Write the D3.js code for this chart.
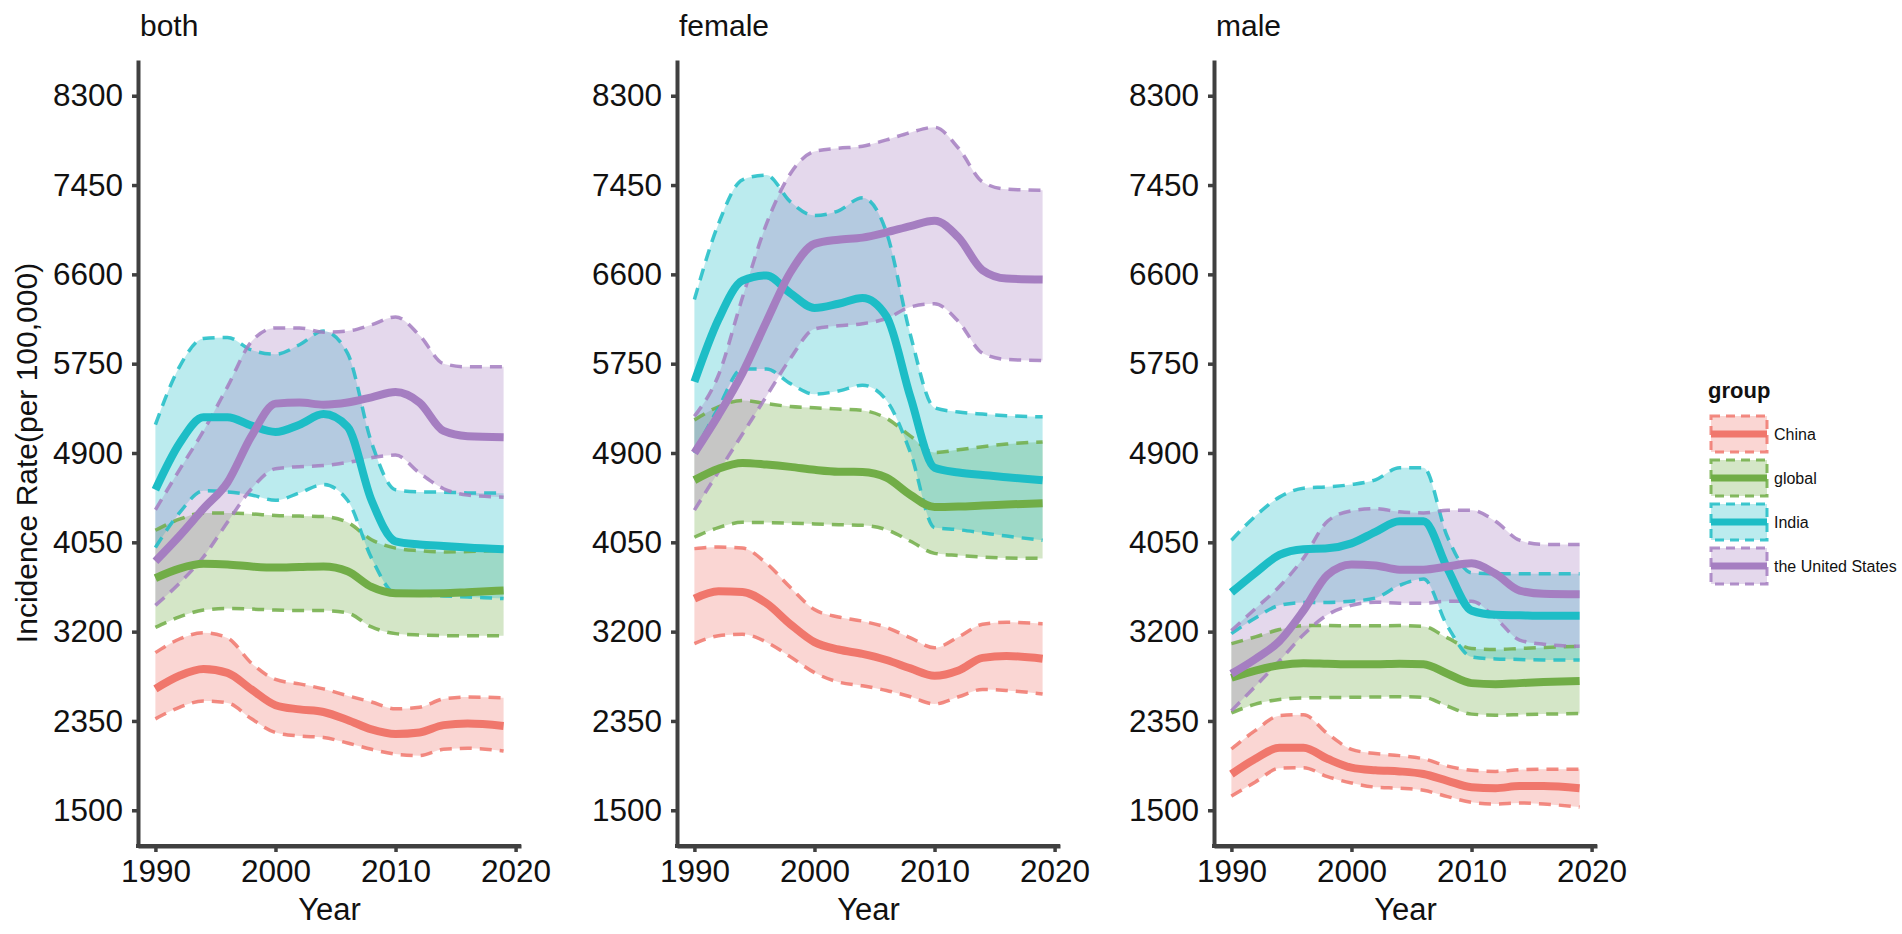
<!DOCTYPE html>
<html>
<head>
<meta charset="utf-8">
<script src="https://cdn.jsdelivr.net/npm/d3@7"></script>
<style>
  body { margin: 0; background: #fff; }
  text { font-family: "Liberation Sans", Arial, sans-serif; }
</style>
</head>
<body>
<div id="chart"></div>
<script>
const years = [1990, 1992, 1994, 1996, 1998, 2000, 2002, 2004, 2006, 2008, 2010, 2012, 2014, 2016, 2019];
const groups = ["China", "global", "India", "the United States"];
const panels = ["both", "female", "male"];
const yTicks = [1500, 2350, 3200, 4050, 4900, 5750, 6600, 7450, 8300];
const xTicks = [1990, 2000, 2010, 2020];

// both
const bothChinaFit  = [2656, 2780, 2845, 2808, 2650, 2500, 2460, 2435, 2360, 2270, 2226, 2240, 2310, 2325, 2302];
const bothChinaLow  = [2370, 2480, 2540, 2522, 2370, 2240, 2207, 2193, 2140, 2080, 2035, 2020, 2080, 2090, 2064];
const bothChinaHigh = [3000, 3130, 3190, 3140, 2900, 2745, 2703, 2655, 2590, 2530, 2465, 2480, 2560, 2578, 2570];
const bothGlobalFit  = [3710, 3800, 3845, 3840, 3820, 3810, 3815, 3820, 3775, 3625, 3565, 3563, 3565, 3575, 3592];
const bothGlobalLow  = [3240, 3340, 3405, 3420, 3415, 3405, 3400, 3400, 3378, 3245, 3181, 3168, 3162, 3160, 3162];
const bothGlobalHigh = [4165, 4270, 4330, 4330, 4320, 4305, 4300, 4295, 4240, 4075, 3995, 3970, 3958, 3962, 3975];
const bothIndiaFit  = [4550, 4990, 5240, 5240, 5160, 5100, 5170, 5270, 5150, 4450, 4060, 4030, 4015, 4000, 3983];
const bothIndiaLow  = [4000, 4330, 4540, 4530, 4500, 4450, 4520, 4600, 4450, 3900, 3563, 3550, 3540, 3530, 3515];
const bothIndiaHigh = [5170, 5720, 5990, 6000, 5880, 5840, 5930, 6060, 5850, 5000, 4550, 4530, 4527, 4520, 4518];
const bothUSFit  = [3870, 4110, 4370, 4620, 5060, 5370, 5380, 5360, 5380, 5430, 5480, 5380, 5110, 5060, 5050];
const bothUSLow  = [3450, 3660, 3910, 4240, 4560, 4750, 4770, 4780, 4810, 4855, 4880, 4710, 4560, 4500, 4480];
const bothUSHigh = [4360, 4740, 5110, 5530, 5960, 6090, 6090, 6050, 6060, 6120, 6195, 6020, 5750, 5720, 5720];

// female
const femaleChinaFit  = [3515, 3585, 3578, 3470, 3270, 3100, 3030, 2988, 2930, 2850, 2780, 2830, 2950, 2968, 2942];
const femaleChinaLow  = [3086, 3160, 3175, 3100, 2960, 2810, 2720, 2685, 2640, 2580, 2512, 2580, 2650, 2640, 2607];
const femaleChinaHigh = [3990, 4005, 3995, 3850, 3620, 3410, 3340, 3300, 3240, 3140, 3047, 3150, 3270, 3290, 3276];
const femaleGlobalFit  = [4642, 4750, 4805, 4790, 4768, 4740, 4722, 4720, 4665, 4500, 4385, 4390, 4400, 4410, 4422];
const femaleGlobalLow  = [4098, 4190, 4240, 4238, 4232, 4225, 4218, 4212, 4170, 4060, 3945, 3925, 3910, 3900, 3897];
const femaleGlobalHigh = [5215, 5340, 5400, 5370, 5342, 5330, 5318, 5305, 5230, 5060, 4905, 4930, 4960, 4985, 5005];
const femaleIndiaFit  = [5578, 6170, 6540, 6590, 6420, 6280, 6320, 6375, 6200, 5430, 4760, 4715, 4690, 4670, 4640];
const femaleIndiaLow  = [4900, 5330, 5700, 5700, 5560, 5460, 5490, 5545, 5400, 4900, 4190, 4170, 4140, 4110, 4069];
const femaleIndiaHigh = [6361, 7080, 7500, 7545, 7290, 7160, 7205, 7330, 7000, 6020, 5330, 5290, 5270, 5255, 5244];
const femaleUSFit  = [4900, 5260, 5660, 6150, 6620, 6890, 6930, 6950, 7000, 7060, 7110, 6950, 6640, 6560, 6550];
const femaleUSLow  = [4356, 4720, 5080, 5440, 5800, 6080, 6110, 6130, 6180, 6290, 6320, 6150, 5850, 5790, 5780];
const femaleUSHigh = [5250, 5640, 6380, 7080, 7560, 7770, 7800, 7820, 7880, 7950, 8000, 7800, 7480, 7410, 7400];

// male
const maleChinaFit  = [1844, 1990, 2095, 2095, 1990, 1905, 1880, 1870, 1845, 1780, 1720, 1710, 1730, 1730, 1710];
const maleChinaLow  = [1634, 1770, 1900, 1905, 1820, 1760, 1720, 1710, 1690, 1630, 1576, 1560, 1570, 1560, 1530];
const maleChinaHigh = [2083, 2260, 2400, 2410, 2230, 2080, 2040, 2020, 1990, 1920, 1880, 1870, 1885, 1890, 1890];
const maleGlobalFit  = [2761, 2830, 2880, 2900, 2895, 2890, 2890, 2895, 2890, 2800, 2710, 2700, 2710, 2720, 2730];
const maleGlobalLow  = [2426, 2510, 2555, 2570, 2572, 2575, 2578, 2580, 2575, 2490, 2415, 2405, 2410, 2415, 2420];
const maleGlobalHigh = [3086, 3150, 3220, 3257, 3258, 3255, 3255, 3258, 3250, 3140, 3040, 3030, 3040, 3050, 3060];
const maleIndiaFit  = [3573, 3760, 3930, 3985, 3993, 4040, 4150, 4250, 4250, 3800, 3400, 3360, 3355, 3350, 3350];
const maleIndiaLow  = [3181, 3330, 3450, 3477, 3478, 3490, 3520, 3640, 3700, 3250, 2960, 2940, 2935, 2930, 2930];
const maleIndiaHigh = [4069, 4300, 4480, 4565, 4578, 4600, 4645, 4760, 4760, 4100, 3760, 3750, 3750, 3750, 3750];
const maleUSFit  = [2799, 2940, 3110, 3400, 3740, 3840, 3830, 3790, 3790, 3820, 3850, 3750, 3590, 3560, 3555];
const maleUSLow  = [2446, 2680, 2920, 3170, 3360, 3450, 3480, 3470, 3470, 3490, 3490, 3330, 3120, 3080, 3060];
const maleUSHigh = [3210, 3420, 3630, 3900, 4250, 4350, 4370, 4340, 4330, 4355, 4356, 4250, 4070, 4030, 4030];

const colors = {"China": "#F0776C", "global": "#71AD47", "India": "#1DBDC6", "the United States": "#A57EC1"};

const table = {
  both: [[bothChinaFit, bothChinaLow, bothChinaHigh], [bothGlobalFit, bothGlobalLow, bothGlobalHigh],
         [bothIndiaFit, bothIndiaLow, bothIndiaHigh], [bothUSFit, bothUSLow, bothUSHigh]],
  female: [[femaleChinaFit, femaleChinaLow, femaleChinaHigh], [femaleGlobalFit, femaleGlobalLow, femaleGlobalHigh],
           [femaleIndiaFit, femaleIndiaLow, femaleIndiaHigh], [femaleUSFit, femaleUSLow, femaleUSHigh]],
  male: [[maleChinaFit, maleChinaLow, maleChinaHigh], [maleGlobalFit, maleGlobalLow, maleGlobalHigh],
         [maleIndiaFit, maleIndiaLow, maleIndiaHigh], [maleUSFit, maleUSLow, maleUSHigh]]
};

const W = 1902, H = 934;
const panelLeft = [138, 677, 1214];
const panelW = 383;
const plotTop = 60, plotBottom = 846;
const axisColor = "#404040";

const svg = d3.select("#chart").append("svg")
  .attr("width", W).attr("height", H);

const y = d3.scaleLinear().domain([1160, 8640]).range([plotBottom, plotTop]);

panels.forEach(function(p, pi) {
  var x0 = panelLeft[pi];
  var x = d3.scaleLinear().domain([1988.55, 2020.45]).range([x0, x0 + panelW]);
  var g = svg.append("g");

  var area = d3.area().curve(d3.curveMonotoneX)
    .x(function(d) { return x(d.year); })
    .y0(function(d) { return y(d.lo); })
    .y1(function(d) { return y(d.hi); });
  var line = function(key) {
    return d3.line().curve(d3.curveMonotoneX)
      .x(function(d) { return x(d.year); })
      .y(function(d) { return y(d[key]); });
  };

  var series = groups.map(function(gr, i) {
    var s = table[p][i];
    return { group: gr, values: years.map(function(yr, j) {
      return { year: yr, fit: s[0][j], lo: s[1][j], hi: s[2][j] };
    })};
  });

  // ribbons
  series.forEach(function(s) {
    g.append("path").attr("d", area(s.values))
      .attr("fill", colors[s.group]).attr("fill-opacity", 0.3);
  });
  // dashed bounds
  series.forEach(function(s) {
    ["lo", "hi"].forEach(function(k) {
      g.append("path").attr("d", line(k)(s.values))
        .attr("fill", "none").attr("stroke", colors[s.group])
        .attr("stroke-opacity", 0.85)
        .attr("stroke-width", 3.5).attr("stroke-dasharray", "12,8");
    });
  });
  // fitted lines
  series.forEach(function(s) {
    g.append("path").attr("d", line("fit")(s.values))
      .attr("fill", "none").attr("stroke", colors[s.group])
      .attr("stroke-width", 8);
  });

  // axes
  var ya = svg.append("g").attr("transform", "translate(" + x0 + ",0)")
    .call(d3.axisLeft(y).tickValues(yTicks).tickFormat(d3.format("d"))
      .tickSize(6).tickSizeOuter(0).tickPadding(9));
  var xa = svg.append("g").attr("transform", "translate(0," + plotBottom + ")")
    .call(d3.axisBottom(x).tickValues(xTicks).tickFormat(d3.format("d"))
      .tickSize(6).tickSizeOuter(0).tickPadding(8));
  [ya, xa].forEach(function(a) {
    a.select(".domain").attr("stroke", axisColor).attr("stroke-width", 4);
    a.selectAll(".tick line").attr("stroke", axisColor).attr("stroke-width", 3.5);
    a.selectAll(".tick text").attr("fill", "#111").style("font-size", "31.5px")
      .style("font-family", "'Liberation Sans', Arial, sans-serif");
  });
  // extend the axis lines to meet in the corner
  svg.append("line").attr("x1", x0 - 2).attr("x2", x0 + panelW).attr("y1", plotBottom).attr("y2", plotBottom)
    .attr("stroke", axisColor).attr("stroke-width", 4);

  svg.append("text").attr("x", x0 + 2).attr("y", 36)
    .style("font-size", "30px").attr("fill", "#111").text(p);
  svg.append("text").attr("x", x0 + panelW / 2).attr("y", 920)
    .attr("text-anchor", "middle").style("font-size", "31px").attr("fill", "#111").text("Year");
});

svg.append("text")
  .attr("transform", "translate(37," + ((plotTop + plotBottom) / 2) + ") rotate(-90)")
  .attr("text-anchor", "middle").style("font-size", "30px").attr("fill", "#111")
  .text("Incidence Rate(per 100,000)");

// legend
var lg = svg.append("g").attr("transform", "translate(1708,0)");
lg.append("text").attr("x", 0).attr("y", 398).style("font-size", "22px")
  .style("font-weight", "bold").attr("fill", "#111").text("group");
groups.forEach(function(gr, i) {
  var cy = 434 + i * 44;
  lg.append("rect").attr("x", 3).attr("y", cy - 18).attr("width", 56).attr("height", 36)
    .attr("fill", colors[gr]).attr("fill-opacity", 0.3)
    .attr("stroke", colors[gr]).attr("stroke-opacity", 0.85)
    .attr("stroke-width", 3).attr("stroke-dasharray", "9,6");
  lg.append("line").attr("x1", 3).attr("x2", 59).attr("y1", cy).attr("y2", cy)
    .attr("stroke", colors[gr]).attr("stroke-width", 7);
  lg.append("text").attr("x", 66).attr("y", cy + 6).style("font-size", "16px")
    .attr("fill", "#111").text(gr);
});
</script>
</body>
</html>
